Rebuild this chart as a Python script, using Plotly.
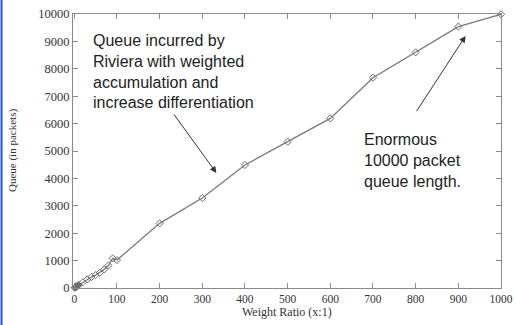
import plotly.graph_objects as go

# Weight ratio (x:1) and the resulting queue length in packets
weight_ratio = [1, 2, 3, 4, 5, 6, 7, 8, 9, 10, 20, 30, 40, 50, 60, 70, 80, 90, 100,
                200, 300, 400, 500, 600, 700, 800, 900, 1000]
queue_packets = [10, 20, 30, 40, 50, 60, 70, 80, 95, 105, 210, 310, 400, 470, 560, 680, 820, 1080, 1020,
                 2360, 3285, 4490, 5340, 6190, 7675, 8600, 9540, 9990]

x_ticks = list(range(0, 1001, 100))
y_ticks = list(range(0, 10001, 1000))
x_tick_labels = [str(v) for v in x_ticks]
y_tick_labels = [str(v) for v in y_ticks]

serif = "Liberation Serif, Times New Roman, serif"
sans = "Liberation Sans, Arial, sans-serif"
frame = "#8a8a8a"

fig = go.Figure()
fig.add_trace(go.Scatter(
    x=weight_ratio, y=queue_packets, mode="lines+markers",
    line=dict(color="#7a7a7a", width=1.3),
    marker=dict(symbol="diamond-open", size=5.5, color="#6a6a6a", line=dict(width=1)),
    cliponaxis=False, showlegend=False,
))

axis_common = dict(
    showgrid=False, zeroline=False, showline=True, linecolor=frame, linewidth=1.2,
    mirror="ticks", ticks="inside", ticklen=5, tickcolor=frame, tickwidth=1,
    automargin=False,
)

fig.update_layout(
    width=516, height=325,
    margin=dict(l=73, r=15, t=14, b=37),
    paper_bgcolor="white", plot_bgcolor="white",
    xaxis=dict(range=[-3, 1000], tickvals=x_ticks, ticktext=x_tick_labels,
               tickfont=dict(family=serif, size=11.5, color="#333333"), **axis_common),
    yaxis=dict(range=[0, 10000], tickvals=y_ticks, ticktext=y_tick_labels,
               tickfont=dict(family=serif, size=12.5, color="#333333"), **axis_common),
)

# Axis titles
fig.add_annotation(text="Weight Ratio (x:1)", xref="paper", yref="paper", x=0.5, y=0,
                   yshift=-24, yanchor="middle", showarrow=False,
                   font=dict(family=serif, size=12, color="#333333"))
fig.add_annotation(text="Queue (in packets)", xref="paper", yref="paper", x=0, y=0.5,
                   xshift=-61, textangle=-90, xanchor="center", showarrow=False,
                   font=dict(family=serif, size=11, color="#333333"))

# Callout texts
fig.add_annotation(text="Queue incurred by<br>Riviera with weighted<br>accumulation and<br>increase differentiation",
                   x=38, y=9420, xref="x", yref="y", xanchor="left", yanchor="top", align="left",
                   showarrow=False, font=dict(family=sans, size=16, color="#222222"))
fig.add_annotation(text="Enormous<br>10000 packet<br>queue length.",
                   x=675, y=5790, xref="x", yref="y", xanchor="left", yanchor="top", align="left",
                   showarrow=False, font=dict(family=sans, size=16, color="#222222"))

# Arrows pointing at the curve
fig.add_annotation(x=333, y=4200, ax=231, ay=6390, xref="x", yref="y", axref="x", ayref="y",
                   text="", showarrow=True, arrowhead=2, arrowsize=1.3, arrowwidth=1,
                   arrowcolor="#333333")
fig.add_annotation(x=917, y=9200, ax=800, ay=6400, xref="x", yref="y", axref="x", ayref="y",
                   text="", showarrow=True, arrowhead=2, arrowsize=1.3, arrowwidth=1,
                   arrowcolor="#333333")

# Blue border line along the left edge of the image
fig.add_shape(type="line", xref="paper", yref="paper",
              x0=-0.167, x1=-0.167, y0=-0.14, y1=1.06,
              line=dict(color="#1f4fff", width=2))

fig.write_html("out.html")
